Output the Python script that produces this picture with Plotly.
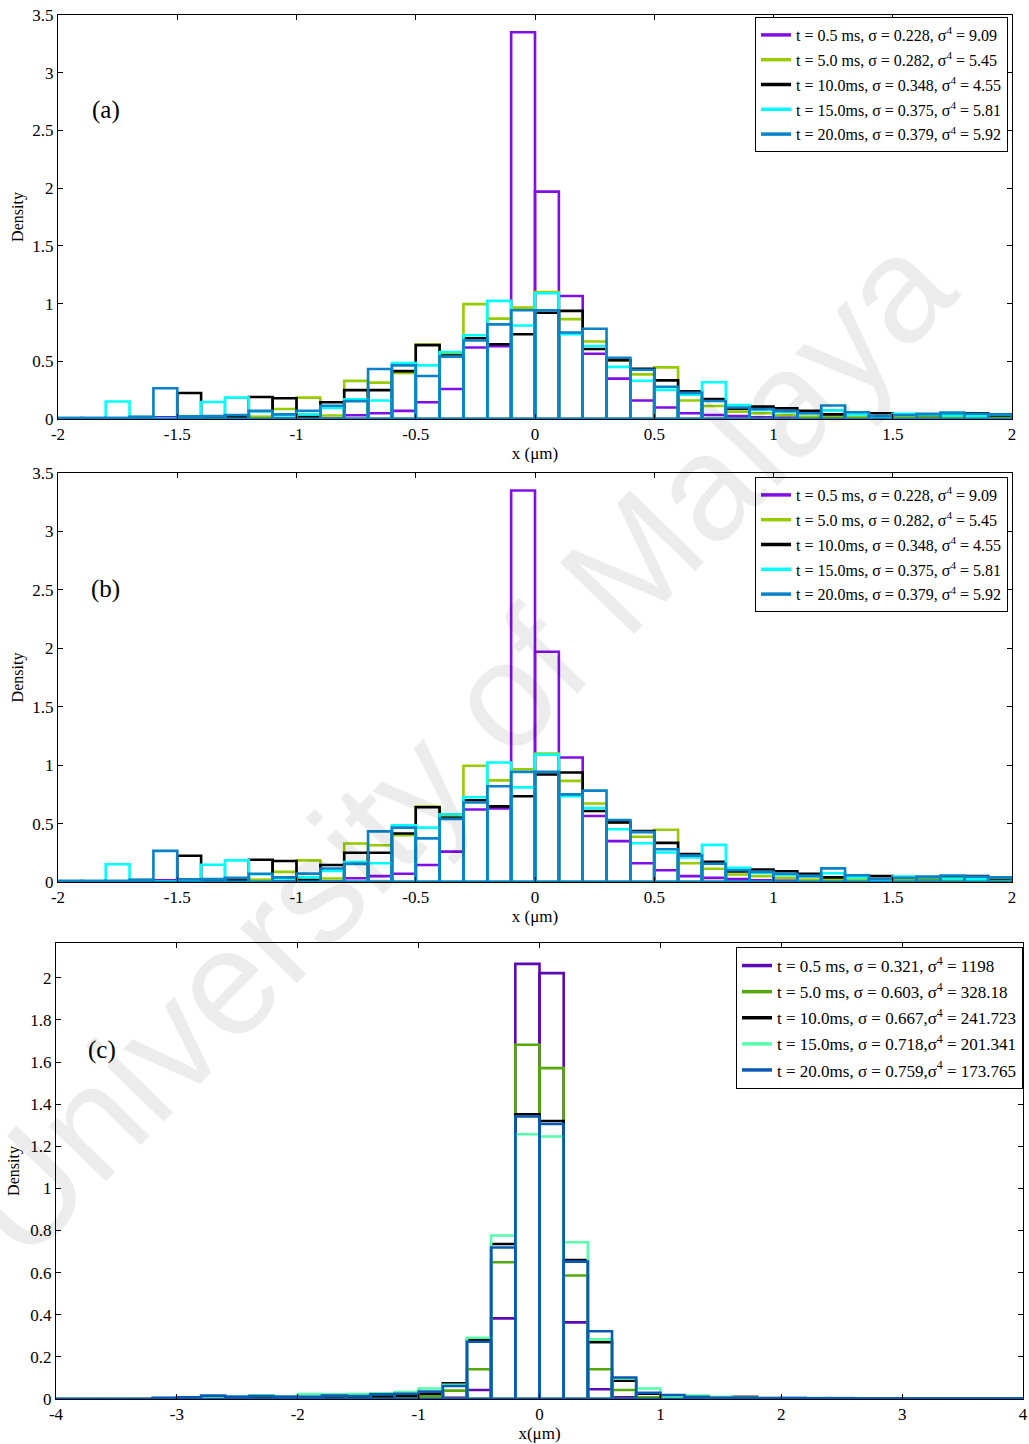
import numpy as np
import plotly.graph_objects as go

# ---------------- data: panels (a) and (b), bins of 0.1 um on [-2, 2] ----------------
edges_ab = np.round(np.arange(-2.0, 2.0001, 0.1), 3)
centers_ab = (edges_ab[:-1] + edges_ab[1:]) / 2

dens_05ms_ab = [0, 0, 0, 0, 0.015, 0.005, 0.005, 0.01, 0.01, 0.006,
                0.01, 0.005, 0.032, 0.05, 0.07, 0.145, 0.26, 0.62, 0.63, 3.35,
                1.97, 1.065, 0.565, 0.35, 0.16, 0.10, 0.05, 0.035, 0.025, 0.015,
                0.012, 0.01, 0.015, 0.01, 0.012, 0.008, 0.01, 0.022, 0.01, 0.005]
dens_5ms_ab = [0, 0, 0, 0, 0, 0.005, 0.005, 0.01, 0.02, 0.087,
               0.185, 0.03, 0.33, 0.315, 0.40, 0.645, 0.56, 0.995, 0.87, 0.965,
               1.10, 0.865, 0.672, 0.507, 0.387, 0.447, 0.16, 0.113, 0.064, 0.05,
               0.035, 0.02, 0.02, 0.02, 0.015, 0.015, 0.025, 0.015, 0.015, 0.015]
dens_10ms_ab = [0, 0, 0.005, 0.005, 0.005, 0.225, 0.01, 0.015, 0.19, 0.18,
                0.02, 0.145, 0.25, 0.25, 0.415, 0.64, 0.55, 0.70, 0.647, 0.734,
                0.92, 0.937, 0.607, 0.51, 0.435, 0.335, 0.24, 0.173, 0.09, 0.107,
                0.092, 0.07, 0.04, 0.05, 0.05, 0.04, 0.035, 0.04, 0.05, 0.03]
dens_15ms_ab = [0, 0, 0.152, 0.005, 0.005, 0.01, 0.147, 0.185, 0.066, 0.03,
                0.04, 0.095, 0.17, 0.16, 0.485, 0.465, 0.58, 0.725, 1.023, 0.81,
                1.09, 0.735, 0.632, 0.452, 0.332, 0.252, 0.21, 0.318, 0.121, 0.078,
                0.06, 0.05, 0.075, 0.04, 0.02, 0.046, 0.04, 0.03, 0.026, 0.04]
dens_20ms_ab = [0.01, 0.01, 0.01, 0.02, 0.266, 0.023, 0.025, 0.035, 0.07, 0.04,
                0.072, 0.115, 0.155, 0.433, 0.465, 0.373, 0.54, 0.68, 0.82, 0.942,
                0.942, 0.75, 0.782, 0.53, 0.427, 0.28, 0.226, 0.156, 0.10, 0.087,
                0.07, 0.05, 0.117, 0.058, 0.026, 0.035, 0.046, 0.055, 0.046, 0.04]

labels_ab = ["t = 0.5 ms, σ = 0.228, σ<sup>4</sup> = 9.09",
             "t = 5.0 ms, σ = 0.282, σ<sup>4</sup> = 5.45",
             "t = 10.0ms, σ = 0.348, σ<sup>4</sup> = 4.55",
             "t = 15.0ms, σ = 0.375, σ<sup>4</sup> = 5.81",
             "t = 20.0ms, σ = 0.379, σ<sup>4</sup> = 5.92"]
colors_ab = ["#7F0FE6", "#99CC00", "#000000", "#00FFFF", "#0A82C8"]

xticks_ab = [-2, -1.5, -1, -0.5, 0, 0.5, 1, 1.5, 2]
xticktext_ab = ["-2", "-1.5", "-1", "-0.5", "0", "0.5", "1", "1.5", "2"]
yticks_ab = [0, 0.5, 1, 1.5, 2, 2.5, 3, 3.5]

# ---------------- data: panel (c), bins of 0.2 um on [-4, 4] ----------------
edges_c = np.round(np.arange(-4.0, 4.0001, 0.2), 3)
centers_c = (edges_c[:-1] + edges_c[1:]) / 2

dens_05ms_c = [0, 0, 0, 0, 0, 0, 0, 0, 0, 0,
               0, 0, 0, 0, 0.003, 0.025, 0.006, 0.043, 0.383, 2.066,
               2.022, 0.364, 0.046, 0.008, 0.002, 0, 0, 0, 0, 0,
               0, 0, 0, 0, 0, 0, 0, 0, 0, 0]
dens_5ms_c = [0, 0, 0, 0, 0, 0, 0, 0, 0, 0,
              0.005, 0.005, 0.015, 0.01, 0.011, 0.015, 0.04, 0.141, 0.649, 1.682,
              1.571, 0.586, 0.141, 0.043, 0.008, 0.004, 0.002, 0.002, 0, 0,
              0, 0, 0, 0, 0, 0, 0, 0, 0, 0]
dens_10ms_c = [0, 0, 0, 0, 0.003, 0.005, 0.008, 0.005, 0.006, 0.006,
               0.005, 0.008, 0.01, 0.012, 0.015, 0.025, 0.074, 0.28, 0.736, 1.352,
               1.32, 0.66, 0.27, 0.087, 0.025, 0.012, 0.008, 0.006, 0.01, 0.004,
               0.003, 0.003, 0.002, 0.002, 0.001, 0.001, 0.001, 0.001, 0.001, 0.001]
dens_15ms_c = [0, 0, 0, 0, 0.003, 0.005, 0.01, 0.011, 0.017, 0.012,
               0.024, 0.022, 0.024, 0.027, 0.033, 0.05, 0.067, 0.291, 0.776, 1.257,
               1.246, 0.744, 0.283, 0.098, 0.05, 0.011, 0.016, 0.01, 0.006, 0.004,
               0.004, 0.003, 0.003, 0.002, 0.002, 0.002, 0.002, 0.002, 0.002, 0.002]
dens_20ms_c = [0, 0, 0, 0, 0.006, 0.008, 0.016, 0.011, 0.014, 0.011,
               0.011, 0.016, 0.014, 0.022, 0.025, 0.035, 0.062, 0.272, 0.719, 1.341,
               1.306, 0.652, 0.322, 0.102, 0.03, 0.019, 0.01, 0.006, 0.005, 0.004,
               0.005, 0.004, 0.004, 0.003, 0.003, 0.003, 0.003, 0.003, 0.003, 0.003]

labels_c = ["t = 0.5 ms, σ = 0.321, σ<sup>4</sup> = 1198",
            "t = 5.0 ms, σ = 0.603, σ<sup>4</sup> = 328.18",
            "t = 10.0ms, σ = 0.667,σ<sup>4</sup> = 241.723",
            "t = 15.0ms, σ = 0.718,σ<sup>4</sup> = 201.341",
            "t = 20.0ms, σ = 0.759,σ<sup>4</sup> = 173.765"]
colors_c = ["#5C0AB4", "#55A80A", "#000000", "#55FFAA", "#0A5AB4"]

xticks_c = [-4, -3, -2, -1, 0, 1, 2, 3, 4]
xticktext_c = ["-4", "-3", "-2", "-1", "0", "1", "2", "3", "4"]
yticks_c = [0, 0.2, 0.4, 0.6, 0.8, 1, 1.2, 1.4, 1.6, 1.8, 2]

series_ab = [dens_05ms_ab, dens_5ms_ab, dens_10ms_ab, dens_15ms_ab, dens_20ms_ab]
series_c = [dens_05ms_c, dens_5ms_c, dens_10ms_c, dens_15ms_c, dens_20ms_c]

W, H = 1029, 1444
SERIF = "Liberation Serif, Times New Roman, serif"

fig = go.Figure()


def add_hist(centers, width, series, colors, labels, xa, ya, legend):
    for i, (vals, col, lab) in enumerate(zip(series, colors, labels)):
        fig.add_trace(go.Bar(
            x=centers, y=vals, width=width, xaxis=xa, yaxis=ya,
            marker=dict(color="rgba(0,0,0,0)", line=dict(color=col, width=2.6)),
            showlegend=False, hoverinfo="x+y"))
        # line-style legend key
        fig.add_trace(go.Scatter(
            x=[None], y=[None], mode="lines", xaxis=xa, yaxis=ya,
            line=dict(color=col, width=3.5), name=lab, legend=legend,
            legendgroup=f"{legend}_{i}"))


add_hist(centers_ab, 0.1, series_ab, colors_ab, labels_ab, "x", "y", "legend")
add_hist(centers_ab, 0.1, series_ab, colors_ab, labels_ab, "x2", "y2", "legend2")
add_hist(centers_c, 0.2, series_c, colors_c, labels_c, "x3", "y3", "legend3")


def px_dom(a, b, total):
    return [a / total, b / total]


def py_dom(top, bottom):
    return [(H - bottom) / H, (H - top) / H]


axis_common = dict(showline=True, linecolor="black", linewidth=1, mirror="ticks",
                   ticks="inside", ticklen=5, tickcolor="black", showgrid=False,
                   zeroline=False, layer="above traces", automargin=False,
                   tickfont=dict(family=SERIF, size=17, color="black"))

title_font = dict(family=SERIF, size=17, color="black")
ytitle_font = dict(family=SERIF, size=16, color="black")

fig.update_layout(
    width=W, height=H, margin=dict(l=0, r=0, t=0, b=0, autoexpand=False),
    paper_bgcolor="white", plot_bgcolor="white", barmode="overlay",
    font=dict(family=SERIF, color="black"),
    xaxis=dict(domain=px_dom(58, 1012, W), range=[-2, 2], anchor="y",
               tickvals=xticks_ab, ticktext=xticktext_ab,
               title=dict(text="x (μm)", font=title_font, standoff=0), **axis_common),
    yaxis=dict(domain=py_dom(15, 419), range=[0, 3.5], anchor="x",
               tickvals=yticks_ab,
               title=dict(text="Density", font=ytitle_font, standoff=4),
               **axis_common),
    xaxis2=dict(domain=px_dom(58, 1012, W), range=[-2, 2], anchor="y2",
                tickvals=xticks_ab, ticktext=xticktext_ab,
                title=dict(text="x (μm)", font=title_font, standoff=0), **axis_common),
    yaxis2=dict(domain=py_dom(473, 882), range=[0, 3.5], anchor="x2",
                tickvals=yticks_ab,
                title=dict(text="Density", font=ytitle_font, standoff=4),
                **axis_common),
    xaxis3=dict(domain=px_dom(56, 1023, W), range=[-4, 4], anchor="y3",
                tickvals=xticks_c, ticktext=xticktext_c,
                title=dict(text="x(μm)", font=title_font, standoff=0), **axis_common),
    yaxis3=dict(domain=py_dom(943, 1399), range=[0, 2.165], anchor="x3",
                tickvals=yticks_c,
                title=dict(text="Density", font=ytitle_font, standoff=6),
                **axis_common),
)

legend_common = dict(bgcolor="white", bordercolor="black", borderwidth=1,
                     xanchor="right", yanchor="top", itemwidth=30,
                     tracegroupgap=1)
fig.update_layout(
    legend=dict(x=1008 / W, y=(H - 17) / H, font=dict(family=SERIF, size=16),
                **legend_common),
    legend2=dict(x=1008 / W, y=(H - 477) / H, font=dict(family=SERIF, size=16),
                 **legend_common),
    legend3=dict(x=1023 / W, y=(H - 947) / H, font=dict(family=SERIF, size=17),
                 **legend_common),
)

# panel letters
for txt, xr, yr, xv, yv in [("(a)", "x", "y", -1.80, 2.68),
                            ("(b)", "x2", "y2", -1.80, 2.51),
                            ("(c)", "x3", "y3", -3.62, 1.658)]:
    fig.add_annotation(text=txt, x=xv, y=yv, xref=xr, yref=yr, showarrow=False,
                       font=dict(family=SERIF, size=25, color="black"))

# repository watermark
fig.add_annotation(text="University of Malaya", x=455 / W, y=(H - 745) / H,
                   xref="paper", yref="paper", showarrow=False, textangle=-46,
                   xanchor="center", yanchor="middle",
                   font=dict(family="Liberation Sans, Arial, sans-serif", size=150,
                             color="rgba(0,0,0,0.075)"))

fig.write_html("out.html")
